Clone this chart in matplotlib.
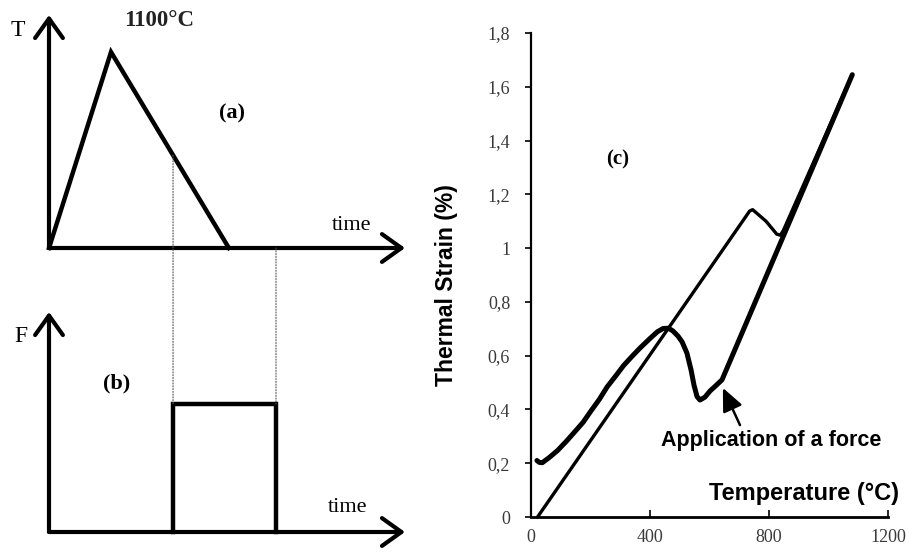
import numpy as np
import matplotlib
matplotlib.use("Agg")
import matplotlib.pyplot as plt
from matplotlib.patches import ConnectionPatch
from matplotlib.ticker import FuncFormatter

# ---------------- data ----------------
# (a) temperature cycle (time in arbitrary units)
cycle_time = [0.0, 1.0, 2.9]
cycle_temp = [0, 1100, 0]
peak_label = "1100°C"

# (b) force pulse
force_time = [2.0, 2.0, 3.66, 3.66]
force_level = [0, 1.0, 1.0, 0]

# (c) thermal strain vs temperature
heat_T = [20, 28, 38, 60, 89, 120, 144, 175, 200, 230, 256, 285, 311, 340,
          367, 400, 425, 444, 462, 477, 494, 508, 524, 538, 548, 558, 568,
          585, 602, 618, 642, 1080]
heat_strain = [0.21, 0.203, 0.202, 0.220, 0.247, 0.283, 0.313, 0.352, 0.392,
               0.438, 0.484, 0.525, 0.563, 0.598, 0.629, 0.664, 0.689, 0.701,
               0.702, 0.692, 0.673, 0.651, 0.610, 0.547, 0.490, 0.448, 0.435,
               0.446, 0.469, 0.485, 0.51, 1.645]
cool_T = [1080, 848, 838, 826, 790, 745, 735, 22]
cool_strain = [1.645, 1.065, 1.048, 1.052, 1.10, 1.143, 1.138, 0.0]

x_ticks = [0, 400, 800, 1200]
y_ticks = [0, 0.2, 0.4, 0.6, 0.8, 1.0, 1.2, 1.4, 1.6, 1.8]

W, H = 909, 553
fig = plt.figure(figsize=(W / 100, H / 100), dpi=100)


def fx(px):
    return px / W


def fy(py):
    return 1 - py / H


SERIF = ["Liberation Serif", "DejaVu Serif"]
SANS = ["Liberation Sans", "DejaVu Sans"]

axis_arrow = dict(arrowstyle="->,head_length=0.7,head_width=0.5",
                  lw=3, color="black", shrinkA=0, shrinkB=0,
                  mutation_scale=20)

# ---------------- panel (a) ----------------
ax_a = fig.add_axes([fx(49), fy(248), (405 - 49) / W, (248 - 15) / H])
ax_a.set_xlim(0, 5.74)
ax_a.set_ylim(0, 1308)
ax_a.axis("off")
ax_a.plot(cycle_time, cycle_temp, color="black", lw=3.2,
          solid_joinstyle="miter", clip_on=False)
ax_a.annotate("", xy=(0, 1308), xytext=(0, 0), arrowprops=axis_arrow,
              annotation_clip=False)
ax_a.annotate("", xy=(5.74, 0), xytext=(0, 0), arrowprops=axis_arrow,
              annotation_clip=False)

# ---------------- panel (b) ----------------
ax_b = fig.add_axes([fx(49), fy(532), (405 - 49) / W, (532 - 312) / H])
ax_b.set_xlim(0, 5.74)
ax_b.set_ylim(0, 1.72)
ax_b.axis("off")
ax_b.plot(force_time, force_level, color="black", lw=3.2,
          solid_joinstyle="miter", clip_on=False)
ax_b.annotate("", xy=(0, 1.72), xytext=(0, 0), arrowprops=axis_arrow,
              annotation_clip=False)
ax_b.annotate("", xy=(5.74, 0), xytext=(0, 0), arrowprops=axis_arrow,
              annotation_clip=False)

# dotted connectors between (a) and (b)
t_on, t_off = force_time[0], force_time[-1]
temp_on = np.interp(t_on, cycle_time[1:], cycle_temp[1:])
temp_off = 0
for t, T in [(t_on, temp_on), (t_off, temp_off)]:
    con = ConnectionPatch(xyA=(t, T), coordsA=ax_a.transData,
                          xyB=(t, max(force_level)), coordsB=ax_b.transData,
                          linestyle=(0, (1, 1.5)), lw=0.8, color="#555555")
    fig.add_artist(con)

# left texts
fig.text(fx(18), fy(30), "T", family=SERIF, fontsize=17, ha="center", va="center")
fig.text(fx(159), fy(21), peak_label, family=SERIF, fontsize=16.5,
         weight="bold", ha="center", va="center", color="#222222")
fig.text(fx(232), fy(113), "(a)", family=SERIF, fontsize=16, weight="bold",
         ha="center", va="center")
fig.text(fx(352), fy(225), "time", family=SERIF, fontsize=16,
         ha="center", va="center")
fig.text(fx(21), fy(336), "F", family=SERIF, fontsize=17, ha="center", va="center")
fig.text(fx(117), fy(383), "(b)", family=SERIF, fontsize=16, weight="bold",
         ha="center", va="center")
fig.text(fx(348), fy(508), "time", family=SERIF, fontsize=16,
         ha="center", va="center")

# ---------------- panel (c) ----------------
ax = fig.add_axes([fx(531), fy(517), (888 - 531) / W, (517 - 33) / H])
ax.set_xlim(0, 1200)
ax.set_ylim(0, 1.8)
ax.plot(heat_T, heat_strain, color="black", lw=3.6, solid_joinstyle="round",
        solid_capstyle="round", clip_on=False)
ax.plot(cool_T, cool_strain, color="black", lw=2.4, solid_joinstyle="round",
        solid_capstyle="round", clip_on=False)

for s in ["top", "right"]:
    ax.spines[s].set_visible(False)
ax.spines["left"].set_linewidth(1.6)
ax.spines["bottom"].set_linewidth(2.0)
ax.set_xticks(x_ticks)
ax.set_yticks(y_ticks)
fmt = FuncFormatter(lambda v, p: ("%g" % v).replace(".", ","))
ax.xaxis.set_major_formatter(fmt)
ax.yaxis.set_major_formatter(fmt)
ax.tick_params(axis="x", direction="in", length=5, width=1.2, pad=9,
               labelsize=13, labelcolor="#3a3a3a")
ax.tick_params(axis="y", direction="out", length=4, width=1.2, pad=11,
               labelsize=13, labelcolor="#3a3a3a")
for lab in ax.get_xticklabels() + ax.get_yticklabels():
    lab.set_family(SERIF)

ax.set_ylabel("Thermal Strain (%)", family=SANS, fontsize=16.5, weight="bold")
ax.yaxis.set_label_coords(-0.204, 0.48)
ax.set_xlabel("Temperature (°C)", family=SANS, fontsize=17, weight="bold",
              ha="right", va="center")
ax.xaxis.set_label_coords(1.03, 0.048)

ax.text(292, 1.33, "(c)", family=SERIF, fontsize=15, weight="bold",
        ha="center", va="center")
ax.annotate("Application of a force", xy=(645, 0.48), xytext=(807, 0.283),
            textcoords="data", family=SANS, fontsize=15.5, weight="bold",
            ha="center", va="center",
            arrowprops=dict(arrowstyle="-|>,head_length=1.0,head_width=0.45",
                            color="black", lw=1.8, mutation_scale=14,
                            shrinkA=2, shrinkB=0, relpos=(0.37, 1.0)))

fig.savefig("out.png", dpi=100)
